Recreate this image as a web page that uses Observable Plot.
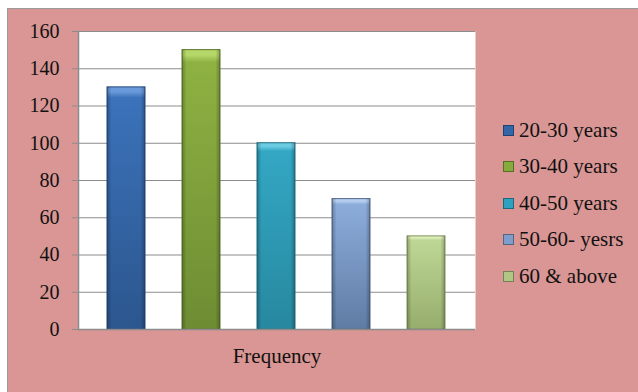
<!DOCTYPE html>
<html>
<head>
<meta charset="utf-8">
<script src="https://cdn.jsdelivr.net/npm/d3@7"></script>
<script src="https://cdn.jsdelivr.net/npm/@observablehq/plot@0.6"></script>
<style>
  html, body { margin: 0; padding: 0; background: #ffffff; }
  #wrap { position: relative; width: 638px; height: 392px; overflow: hidden; }
  #panel { position: absolute; left: 7px; top: 8px; width: 640px; height: 400px;
           background: #D99694; border-left: 1px solid #9a9a9a; border-top: 1px solid #9a9a9a; }
  #chart { position: absolute; left: 0; top: 0; }
  #legend { position: absolute; left: 503px; top: 112px; font-family: "Liberation Serif", serif;
            font-size: 21px; color: #111; }
  .item { height: 36.5px; display: flex; align-items: center; white-space: nowrap; }
  .sw { width: 11px; height: 11px; margin-right: 5px; box-sizing: border-box; border: 1px solid rgba(0,0,0,0.35); }
  #chart svg text { font-family: "Liberation Serif", serif; }
</style>
</head>
<body>
<div id="wrap">
  <div id="panel"></div>
  <div id="chart"></div>
  <div id="legend"></div>
</div>
<script>
// Data
const categories = ["20-30 years", "30-40 years", "40-50 years", "50-60- yesrs", "60 & above"];
const frequency = [130, 150, 100, 70, 50];
const yTicks = [0, 20, 40, 60, 80, 100, 120, 140, 160];
const xLabel = "Frequency";
// colours: [bevel top, body top, body bottom, stroke]
const barColors = [
  ["#6A9ADA", "#3B72BA", "#2C568E", "#25497A"],
  ["#B5D668", "#8EB142", "#6E8C33", "#5C752A"],
  ["#6ACBE2", "#33A7C4", "#27889F", "#1F6F82"],
  ["#B6CEF0", "#8CACDA", "#5F7CA4", "#4E678A"],
  ["#DCEDBA", "#BED795", "#97AD6D", "#7F935B"]
];
const swatchColors = ["#3266A8", "#86AA3C", "#2FA0BE", "#7E9DCB", "#AFC685"];

const data = categories.map((c, i) => ({category: c, value: frequency[i]}));

const chart = Plot.plot({
  width: 638,
  height: 392,
  marginLeft: 78,
  marginRight: 163,
  marginTop: 31,
  marginBottom: 63,
  style: {background: "transparent", fontFamily: "Liberation Serif, serif", fontSize: "20px", color: "#111"},
  x: {domain: categories, type: "band", paddingInner: 0.49, paddingOuter: 0.37, axis: null},
  y: {domain: [0, 160], ticks: yTicks, label: null},
  color: {type: "ordinal", domain: categories, range: categories.map((_, i) => `url(#grad${i})`)},
  marks: [
    Plot.frame({fill: "white", stroke: null}),
    Plot.ruleY(yTicks.filter(d => d > 0), {stroke: "#8c8c8c", strokeWidth: 1}),
    Plot.axisY({ticks: yTicks, tickSize: 6, tickPadding: 13, stroke: "#8c8c8c", label: null,
      fontSize: 20, fontFamily: "Liberation Serif"}),
    Plot.barY(data, {x: "category", y: "value", fill: "category",
      stroke: (d) => barColors[categories.indexOf(d.category)][3], strokeWidth: 1}),
    Plot.barY(data, {x: "category", y: "value", fill: "url(#side)", stroke: null}),
    Plot.ruleY([0], {stroke: "#8c8c8c", strokeWidth: 1.5}),
    Plot.frame({anchor: "left", stroke: "#8c8c8c", strokeWidth: 1.5}),
    Plot.text([xLabel], {frameAnchor: "bottom", dy: 33, fontSize: 21, fontFamily: "Liberation Serif", fill: "#111"})
  ]
});

// gradient definitions
const svg = d3.select(chart);
const defs = svg.insert("defs", ":first-child");
barColors.forEach((c, i) => {
  const g = defs.append("linearGradient").attr("id", `grad${i}`)
    .attr("x1", 0).attr("y1", 0).attr("x2", 0).attr("y2", 1);
  g.append("stop").attr("offset", "0%").attr("stop-color", c[0]);
  g.append("stop").attr("offset", "2%").attr("stop-color", c[0]);
  g.append("stop").attr("offset", "4.5%").attr("stop-color", c[1]);
  g.append("stop").attr("offset", "100%").attr("stop-color", c[2]);
});
const side = defs.append("linearGradient").attr("id", "side")
  .attr("x1", 0).attr("y1", 0).attr("x2", 1).attr("y2", 0);
side.append("stop").attr("offset", "0%").attr("stop-color", "#000").attr("stop-opacity", 0.25);
side.append("stop").attr("offset", "12%").attr("stop-color", "#000").attr("stop-opacity", 0.0);
side.append("stop").attr("offset", "88%").attr("stop-color", "#000").attr("stop-opacity", 0.0);
side.append("stop").attr("offset", "100%").attr("stop-color", "#000").attr("stop-opacity", 0.25);

document.getElementById("chart").appendChild(chart);

// legend
const legend = d3.select("#legend");
categories.forEach((c, i) => {
  const item = legend.append("div").attr("class", "item");
  item.append("div").attr("class", "sw").style("background", swatchColors[i]);
  item.append("span").text(c);
});
</script>
</body>
</html>
